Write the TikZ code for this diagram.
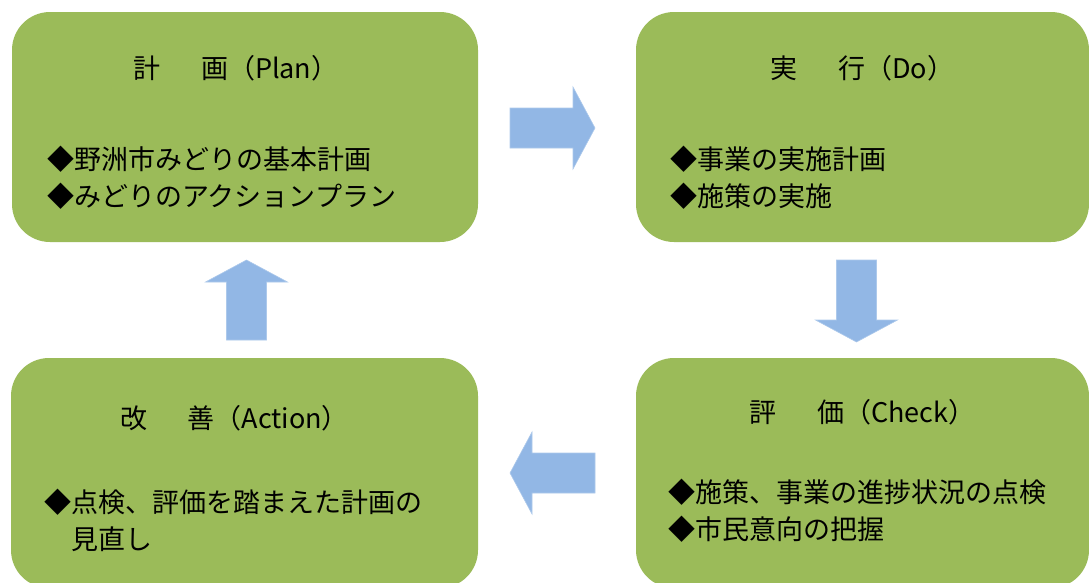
\documentclass[tikz,border=0pt]{standalone}
\usepackage{fontspec}
\setmainfont{Noto Sans CJK JP}
\usetikzlibrary{positioning,calc}

\definecolor{boxgreen}{HTML}{9BBB59}
\definecolor{arrowblue}{RGB}{146,183,229}

\newcommand{\blockarrow}[2]{%
	\coordinate (hb) at ($(#2)!22pt!(#1)$);
	\path[blockarr] ($(#1)!20pt!90:(#2)$) -- ($(hb)!20pt!90:(#2)$) -- ($(hb)!41pt!90:(#2)$) -- (#2)
		-- ($(hb)!41pt!-90:(#2)$) -- ($(hb)!20pt!-90:(#2)$) -- ($(#1)!20pt!-90:(#2)$) -- cycle;
}
\newcommand{\gap}{\hspace{1.5em}}

\begin{document}
\begin{tikzpicture}[box/.style={rectangle,rounded corners=38pt,fill=boxgreen,minimum height=230pt,inner sep=0pt,outer sep=0pt},
		title/.style={inner sep=0pt,font=\fontsize{27}{37}\selectfont},
		items/.style={inner sep=0pt,align=left,anchor=north west,font=\fontsize{27}{37}\selectfont},
		blockarr/.style={fill=arrowblue,draw=arrowblue!75!white,line width=0.6pt}]
	\clip (0,0) rectangle (1089pt,-582pt);

	\node[box,minimum width=466pt]              (plan)   at (245pt,-127pt) {};
	\node[box,minimum width=453pt,right=158pt of plan]  (do)     {};
	\node[box,minimum width=453pt,below=116pt of do]    (check)  {};
	\node[box,minimum width=467pt,left =158pt of check] (action) {};

	\node[title] (plantitle)   at ([xshift=-9pt,yshift=-56pt]plan.north)    {計\gap 画（Plan）};
	\node[title] (dotitle)     at ([yshift=-56pt]do.north)                  {実\gap 行（Do）};
	\node[title] (checktitle)  at ([yshift=-54pt]check.north)               {評\gap 価（Check）};
	\node[title] (actiontitle) at ([xshift=-10pt,yshift=-60pt]action.north) {改\gap 善（Action）};

	\node[items] (planitems)   at ([xshift=35pt,yshift=-134pt]plan.north west)   {◆野洲市みどりの基本計画\\◆みどりのアクションプラン};
	\node[items] (doitems)     at ([xshift=34pt,yshift=-134pt]do.north west)     {◆事業の実施計画\\◆施策の実施};
	\node[items] (checkitems)  at ([xshift=32pt,yshift=-121pt]check.north west)  {◆施策、事業の進捗状況の点検\\◆市民意向の把握};
	\node[items] (actionitems) at ([xshift=33pt,yshift=-131pt]action.north west) {◆点検、評価を踏まえた計画の\\\phantom{◆}見直し};

	% block arrows between the boxes
	\coordinate (pd1) at ([xshift=32pt,yshift=-1pt]plan.east);
	\coordinate (pd2) at ([xshift=117pt,yshift=-1pt]plan.east);
	\coordinate (dc1) at ([xshift=-6pt,yshift=-18pt]do.south);
	\coordinate (dc2) at ([xshift=-6pt,yshift=-100pt]do.south);
	\coordinate (ca1) at ([xshift=-41pt]check.west);
	\coordinate (ca2) at ([xshift=-126pt]check.west);
	\coordinate (ap1) at ([xshift=2pt,yshift=18pt]action.north);
	\coordinate (ap2) at ([xshift=2pt,yshift=98pt]action.north);
	\blockarrow{pd1}{pd2}
	\blockarrow{dc1}{dc2}
	\blockarrow{ca1}{ca2}
	\blockarrow{ap1}{ap2}
\end{tikzpicture}
\end{document}
